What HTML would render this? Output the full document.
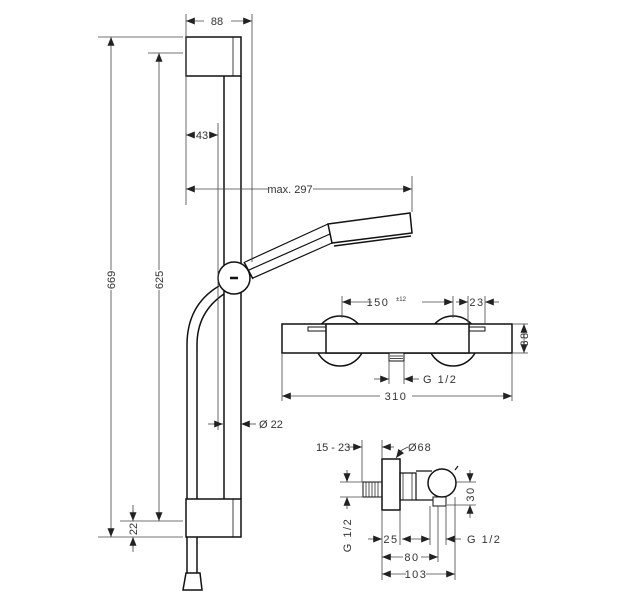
<!DOCTYPE html>
<html><head><meta charset="utf-8"><style>
html,body{margin:0;padding:0;background:#fff;}
svg{display:block;}
text{font-family:"Liberation Sans",sans-serif;font-size:11px;fill:#333;}
</style></head><body>
<svg width="640" height="600" viewBox="0 0 640 600" xmlns="http://www.w3.org/2000/svg">
<defs>
<marker id="a" viewBox="0 0 10 10" refX="10" refY="5" markerWidth="11" markerHeight="11" orient="auto-start-reverse"><path d="M0,1 L10,5 L0,9 Z" fill="#222"/></marker>
</defs>
<g fill="none" stroke="#111" stroke-width="1.5">
<rect x="186" y="37" width="55" height="39" fill="#fff"/>
<line x1="233" y1="37" x2="233" y2="76" stroke-width="0.8"/>
<line x1="224" y1="76" x2="224" y2="499"/>
<line x1="241" y1="76" x2="241" y2="499"/>
<rect x="186" y="499" width="55" height="38" fill="#fff"/>
<line x1="233" y1="499" x2="233" y2="537" stroke-width="0.8"/>
<path d="M219,286 Q187,305 187,345 L187,499"/>
<path d="M224,294 Q197,312 197,345 L197,499"/>
<line x1="187" y1="537" x2="187" y2="573"/><line x1="197" y1="537" x2="197" y2="573"/>
<path d="M186,573 L200,573 L202,590 L183,590 Z" fill="#fff"/>
<path d="M245,262 L328,224 M253,278 L332,243 M249,270 L330,234" stroke-width="1.2"/>
<path d="M244,262 L253,279" />
<path d="M328,224 L410,213 L412,233 L332,243 Z" fill="#fff"/>
<line x1="334" y1="246" x2="411" y2="236" stroke-width="1.5"/>
<circle cx="234" cy="278" r="16" fill="#fff"/>
<line x1="230" y1="278" x2="238" y2="278" stroke-width="2.5"/>
<circle cx="340" cy="341" r="25" fill="#fff"/>
<circle cx="453" cy="341" r="25" fill="#fff"/>
<rect x="282" y="324" width="230" height="29" fill="#fff"/>
<rect x="326" y="324" width="143" height="29" fill="#fff"/>
<rect x="308" y="327" width="18" height="4" stroke-width="1"/>
<rect x="469" y="327" width="16" height="4" stroke-width="1"/>
<rect x="389" y="353" width="15" height="8" fill="#fff" stroke-width="1"/>
<path d="M390,356 H403 M390,358.5 H403" stroke-width="0.7"/>
<rect x="363" y="482" width="19" height="15" stroke-width="1"/>
<path d="M366,482 V497 M369,482 V497 M372,482 V497 M375,482 V497 M378,482 V497" stroke-width="0.7"/>
<rect x="382" y="459" width="18" height="51" fill="#fff"/>
<rect x="400" y="473" width="16" height="27" stroke-width="1.2"/>
<path d="M403,473 V500 M412,473 V500" stroke-width="0.7"/>
<path d="M416,471 L432,471 M416,500 L433,500" stroke-width="1.2"/>
<rect x="433" y="497" width="13" height="9" stroke-width="1"/>
<circle cx="442" cy="483" r="14" fill="#fff"/>
<line x1="455" y1="470" x2="458" y2="466" stroke-width="1.2"/>
</g>
<g stroke="#444" stroke-width="0.8" fill="none">
<line x1="186" y1="14" x2="186" y2="205"/>
<line x1="252" y1="14" x2="252" y2="262"/>
<line x1="98" y1="37" x2="183" y2="37"/>
<line x1="148" y1="53" x2="183" y2="53"/>
<line x1="218" y1="123" x2="218" y2="430"/>
<line x1="412" y1="176" x2="412" y2="212"/>
<line x1="98" y1="537" x2="183" y2="537"/>
<line x1="120" y1="521" x2="183" y2="521"/>
<line x1="133" y1="505" x2="133" y2="515"/><line x1="133" y1="543" x2="133" y2="552"/>
<line x1="186" y1="21" x2="204" y2="21" marker-start="url(#a)"/><line x1="231" y1="21" x2="252" y2="21" marker-end="url(#a)"/>
<line x1="111" y1="37" x2="111" y2="270" marker-start="url(#a)"/><line x1="111" y1="290" x2="111" y2="537" marker-end="url(#a)"/>
<line x1="159" y1="53" x2="159" y2="270" marker-start="url(#a)"/><line x1="159" y1="290" x2="159" y2="521" marker-end="url(#a)"/>
<line x1="186" y1="135" x2="194" y2="135" marker-start="url(#a)"/><line x1="210" y1="135" x2="218" y2="135" marker-end="url(#a)"/>
<line x1="186" y1="189" x2="268" y2="189" marker-start="url(#a)"/><line x1="313" y1="189" x2="412" y2="189" marker-end="url(#a)"/>
<line x1="208" y1="424" x2="223" y2="424" marker-end="url(#a)"/><line x1="256" y1="424" x2="241" y2="424" marker-end="url(#a)"/>
<line x1="133" y1="510" x2="133" y2="521" marker-end="url(#a)"/><line x1="133" y1="548" x2="133" y2="537" marker-end="url(#a)"/>
<line x1="342" y1="296" x2="342" y2="318"/><line x1="453" y1="296" x2="453" y2="318"/>
<line x1="468" y1="296" x2="468" y2="324"/><line x1="485" y1="296" x2="485" y2="324"/>
<line x1="342" y1="302" x2="372" y2="302" marker-start="url(#a)"/><line x1="422" y1="302" x2="453" y2="302" marker-end="url(#a)"/>
<line x1="456" y1="302" x2="468" y2="302" marker-end="url(#a)"/><line x1="499" y1="302" x2="485" y2="302" marker-end="url(#a)"/>
<line x1="512" y1="324" x2="528" y2="324"/><line x1="512" y1="353" x2="528" y2="353"/>
<line x1="524" y1="324" x2="524" y2="353" marker-start="url(#a)" marker-end="url(#a)"/>
<line x1="389" y1="361" x2="389" y2="384"/><line x1="404" y1="361" x2="404" y2="384"/>
<line x1="374" y1="379" x2="389" y2="379" marker-end="url(#a)"/><line x1="419" y1="379" x2="404" y2="379" marker-end="url(#a)"/>
<line x1="282" y1="353" x2="282" y2="401"/><line x1="512" y1="353" x2="512" y2="401"/>
<line x1="282" y1="396" x2="380" y2="396" marker-start="url(#a)"/><line x1="412" y1="396" x2="512" y2="396" marker-end="url(#a)"/>
<line x1="362" y1="440" x2="362" y2="482"/><line x1="382" y1="440" x2="382" y2="459"/>
<line x1="348" y1="447" x2="362" y2="447" marker-end="url(#a)"/><line x1="394" y1="447" x2="382" y2="447" marker-end="url(#a)"/>
<path d="M408,447 L402,450 L396,458" marker-end="url(#a)"/>
<line x1="340" y1="482" x2="363" y2="482"/><line x1="340" y1="497" x2="363" y2="497"/>
<line x1="347" y1="470" x2="347" y2="482" marker-end="url(#a)"/><line x1="347" y1="509" x2="347" y2="497" marker-end="url(#a)"/>
<line x1="456" y1="482" x2="476" y2="482"/><line x1="447" y1="505" x2="476" y2="505"/>
<line x1="470" y1="470" x2="470" y2="482" marker-end="url(#a)"/><line x1="470" y1="518" x2="470" y2="505" marker-end="url(#a)"/>
<line x1="382" y1="510" x2="382" y2="580"/><line x1="400" y1="510" x2="400" y2="545"/>
<line x1="430" y1="506" x2="430" y2="545"/><line x1="438" y1="506" x2="438" y2="562"/><line x1="446" y1="506" x2="446" y2="545"/>
<line x1="455" y1="497" x2="455" y2="580"/>
<line x1="368" y1="539" x2="382" y2="539" marker-end="url(#a)"/>
<line x1="402" y1="539" x2="430" y2="539" marker-start="url(#a)" marker-end="url(#a)"/>
<line x1="461" y1="539" x2="446" y2="539" marker-end="url(#a)"/>
<line x1="382" y1="557" x2="403" y2="557" marker-start="url(#a)"/><line x1="421" y1="557" x2="438" y2="557" marker-end="url(#a)"/>
<line x1="382" y1="574" x2="406" y2="574" marker-start="url(#a)"/><line x1="426" y1="574" x2="455" y2="574" marker-end="url(#a)"/>
</g>
<g>
<text x="217" y="25" text-anchor="middle">88</text>
<text x="202" y="139" text-anchor="middle">43</text>
<text x="290" y="193" text-anchor="middle">max. 297</text>
<text x="259" y="428">Ø 22</text>
<text transform="translate(115,280) rotate(-90)" text-anchor="middle">669</text>
<text transform="translate(163,280) rotate(-90)" text-anchor="middle">625</text>
<text transform="translate(137,529) rotate(-90)" text-anchor="middle">22</text>
<text x="378" y="306" text-anchor="middle" letter-spacing="1.5">150</text>
<text x="396" y="301" style="font-size:6px">±12</text>
<text x="477" y="306" text-anchor="middle" letter-spacing="1.5">23</text>
<text transform="translate(528,339) rotate(-90)" text-anchor="middle" letter-spacing="1.5">38</text>
<text x="423" y="383" letter-spacing="1.5">G 1/2</text>
<text x="396" y="400" text-anchor="middle" letter-spacing="1.5">310</text>
<text x="316" y="451">15 - 23</text>
<text x="408" y="451" letter-spacing="1">Ø68</text>
<text transform="translate(351,535) rotate(-90)" text-anchor="middle" letter-spacing="1.5">G 1/2</text>
<text transform="translate(474,494) rotate(-90)" text-anchor="middle" letter-spacing="1.5">30</text>
<text x="391" y="543" text-anchor="middle" letter-spacing="1.5">25</text>
<text x="467" y="543" letter-spacing="1.5">G 1/2</text>
<text x="412" y="561" text-anchor="middle" letter-spacing="1.5">80</text>
<text x="416" y="578" text-anchor="middle" letter-spacing="1.5">103</text>
</g>
</svg>
</body></html>
